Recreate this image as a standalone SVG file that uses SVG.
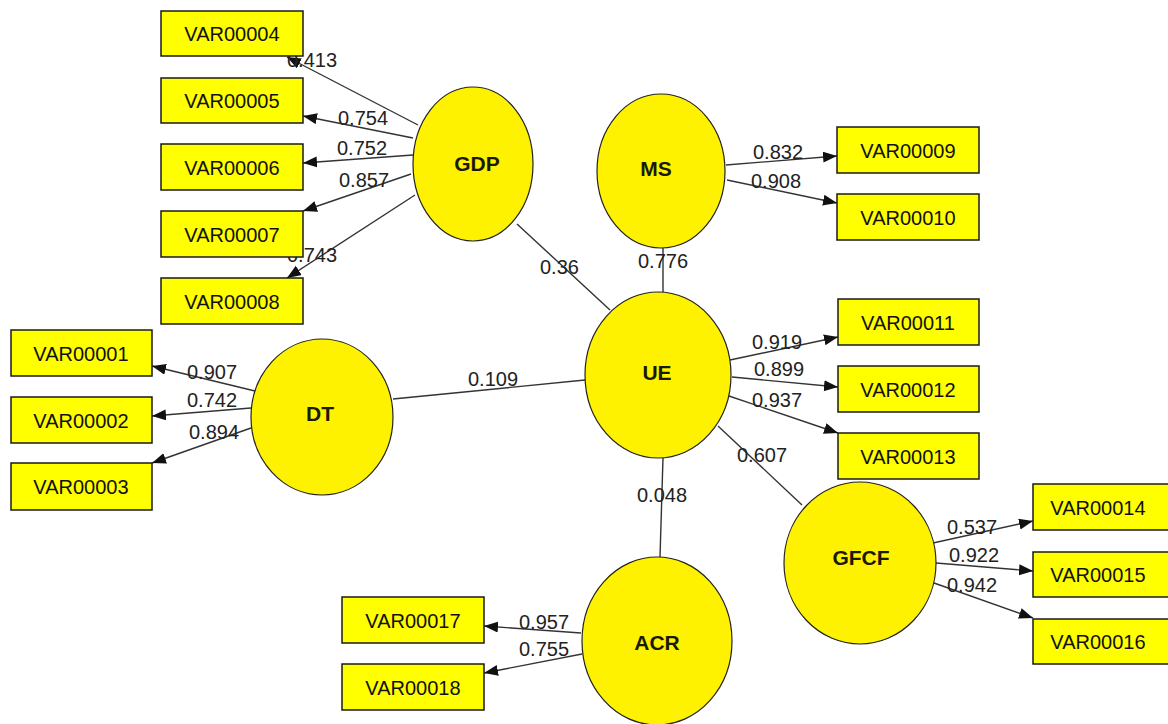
<svg xmlns="http://www.w3.org/2000/svg" width="1168" height="724" viewBox="0 0 1168 724">
<style>
.box{fill:#FFFF00;stroke:#1a1a1a;stroke-width:1.5}
.lat{fill:#FFF200;stroke:#222;stroke-width:1.2}
.bt{font-family:"Liberation Sans",Arial,sans-serif;font-size:20px;fill:#111;text-anchor:middle}
.lt{font-family:"Liberation Sans",Arial,sans-serif;font-size:21px;font-weight:bold;fill:#1a1a00;text-anchor:middle}
.w{font-family:"Liberation Sans",Arial,sans-serif;font-size:20px;fill:#222}
.c{stroke:#333;stroke-width:1.4;fill:none}
.a{marker-end:url(#ah)}
</style>
<defs>
<marker id="ah" markerUnits="userSpaceOnUse" markerWidth="16" markerHeight="12" refX="14" refY="5.5" orient="auto">
<path d="M0,0 L14,5.5 L0,11 z" fill="#111"/>
</marker>
</defs>
<rect width="1168" height="724" fill="#fff"/>
<g id="connectors">
<line class="c a" x1="418" y1="125" x2="287" y2="57"/>
<line class="c a" x1="413" y1="138" x2="303" y2="116"/>
<line class="c a" x1="413" y1="155" x2="303" y2="163"/>
<line class="c a" x1="411" y1="174" x2="303" y2="211"/>
<line class="c a" x1="415" y1="195" x2="287" y2="278"/>
<line class="c" x1="517" y1="224" x2="610" y2="310"/>
<line class="c a" x1="726" y1="165" x2="837" y2="156"/>
<line class="c a" x1="727" y1="180" x2="837" y2="203"/>
<line class="c" x1="663" y1="248" x2="663" y2="292"/>
<line class="c a" x1="730" y1="360" x2="838" y2="337"/>
<line class="c a" x1="732" y1="377" x2="838" y2="387"/>
<line class="c a" x1="729" y1="396" x2="838" y2="433"/>
<line class="c" x1="718" y1="426" x2="802" y2="505"/>
<line class="c" x1="663" y1="458" x2="660" y2="557"/>
<line class="c" x1="393" y1="399" x2="585" y2="380"/>
<line class="c a" x1="255" y1="391" x2="152" y2="366"/>
<line class="c a" x1="251" y1="408" x2="152" y2="416"/>
<line class="c a" x1="251" y1="428" x2="152" y2="463"/>
<line class="c a" x1="933" y1="543" x2="1033" y2="521"/>
<line class="c a" x1="936" y1="563" x2="1033" y2="571"/>
<line class="c a" x1="934" y1="583" x2="1033" y2="618"/>
<line class="c a" x1="581" y1="633" x2="484" y2="626"/>
<line class="c a" x1="582" y1="654" x2="484" y2="673"/>
<text class="w" x="287" y="67">0.413</text>
<text class="w" x="338" y="125">0.754</text>
<text class="w" x="337" y="155">0.752</text>
<text class="w" x="339" y="187">0.857</text>
<text class="w" x="287" y="262">0.743</text>
<text class="w" x="540" y="274">0.36</text>
<text class="w" x="753" y="159">0.832</text>
<text class="w" x="751" y="188">0.908</text>
<text class="w" x="638" y="268">0.776</text>
<text class="w" x="752" y="349">0.919</text>
<text class="w" x="754" y="376">0.899</text>
<text class="w" x="752" y="407">0.937</text>
<text class="w" x="737" y="462">0.607</text>
<text class="w" x="637" y="502">0.048</text>
<text class="w" x="468" y="386">0.109</text>
<text class="w" x="187" y="379">0.907</text>
<text class="w" x="187" y="407">0.742</text>
<text class="w" x="189" y="439">0.894</text>
<text class="w" x="947" y="534">0.537</text>
<text class="w" x="949" y="562">0.922</text>
<text class="w" x="947" y="592">0.942</text>
<text class="w" x="519" y="629">0.957</text>
<text class="w" x="519" y="656">0.755</text>
</g>
<g id="GDP"><ellipse class="lat" cx="473" cy="164" rx="60" ry="77"/><text class="lt" x="477" y="171">GDP</text></g>
<g id="MS"><ellipse class="lat" cx="661" cy="171" rx="64" ry="77"/><text class="lt" x="656" y="176">MS</text></g>
<g id="UE"><ellipse class="lat" cx="658" cy="375" rx="73" ry="83"/><text class="lt" x="657" y="380">UE</text></g>
<g id="DT"><ellipse class="lat" cx="322" cy="417" rx="71" ry="78"/><text class="lt" x="320" y="421">DT</text></g>
<g id="GFCF"><ellipse class="lat" cx="860" cy="563" rx="76" ry="81"/><text class="lt" x="861" y="565">GFCF</text></g>
<g id="ACR"><ellipse class="lat" cx="657" cy="641" rx="75" ry="84"/><text class="lt" x="657" y="650">ACR</text></g>
<g id="VAR00004"><rect class="box" x="161" y="11" width="142" height="45"/><text class="bt" x="232" y="41">VAR00004</text></g>
<g id="VAR00005"><rect class="box" x="161" y="78" width="142" height="45"/><text class="bt" x="232" y="108">VAR00005</text></g>
<g id="VAR00006"><rect class="box" x="161" y="144" width="142" height="46"/><text class="bt" x="232" y="175">VAR00006</text></g>
<g id="VAR00007"><rect class="box" x="161" y="211" width="142" height="46"/><text class="bt" x="232" y="242">VAR00007</text></g>
<g id="VAR00008"><rect class="box" x="161" y="278" width="142" height="46"/><text class="bt" x="232" y="309">VAR00008</text></g>
<g id="VAR00009"><rect class="box" x="837" y="127" width="142" height="46"/><text class="bt" x="908" y="158">VAR00009</text></g>
<g id="VAR00010"><rect class="box" x="837" y="194" width="142" height="46"/><text class="bt" x="908" y="225">VAR00010</text></g>
<g id="VAR00011"><rect class="box" x="838" y="299" width="141" height="46"/><text class="bt" x="908" y="330">VAR00011</text></g>
<g id="VAR00012"><rect class="box" x="838" y="366" width="141" height="46"/><text class="bt" x="908" y="397">VAR00012</text></g>
<g id="VAR00013"><rect class="box" x="838" y="433" width="141" height="46"/><text class="bt" x="908" y="464">VAR00013</text></g>
<g id="VAR00001"><rect class="box" x="11" y="330" width="141" height="46"/><text class="bt" x="81" y="361">VAR00001</text></g>
<g id="VAR00002"><rect class="box" x="11" y="397" width="141" height="46"/><text class="bt" x="81" y="428">VAR00002</text></g>
<g id="VAR00003"><rect class="box" x="11" y="463" width="141" height="47"/><text class="bt" x="81" y="494">VAR00003</text></g>
<g id="VAR00014"><rect class="box" x="1033" y="484" width="142" height="46"/><text class="bt" x="1098" y="515">VAR00014</text></g>
<g id="VAR00015"><rect class="box" x="1033" y="552" width="142" height="45"/><text class="bt" x="1098" y="582">VAR00015</text></g>
<g id="VAR00016"><rect class="box" x="1033" y="619" width="142" height="45"/><text class="bt" x="1098" y="649">VAR00016</text></g>
<g id="VAR00017"><rect class="box" x="342" y="597" width="142" height="46"/><text class="bt" x="413" y="628">VAR00017</text></g>
<g id="VAR00018"><rect class="box" x="342" y="664" width="142" height="46"/><text class="bt" x="413" y="695">VAR00018</text></g>
</svg>
